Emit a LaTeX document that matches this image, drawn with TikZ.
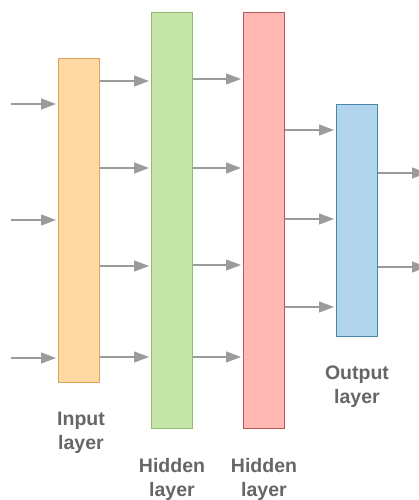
\documentclass[tikz,border=0pt]{standalone}
\usepackage{fontspec}
\setmainfont{Liberation Sans}
\usetikzlibrary{arrows.meta}

\definecolor{inputfill}{HTML}{FFD8A4}
\definecolor{inputline}{HTML}{D8A657}
\definecolor{hidafill}{HTML}{C5E6A8}
\definecolor{hidaline}{HTML}{8FBA72}
\definecolor{hidbfill}{HTML}{FFB8B4}
\definecolor{hidbline}{HTML}{B25A57}
\definecolor{outfill}{HTML}{B2D5EE}
\definecolor{outline}{HTML}{4A88AA}
\definecolor{conngray}{HTML}{9B9B9B}
\definecolor{textgray}{HTML}{666666}

\tikzset{
  layer/.style={draw, line width=1.1pt, minimum width=41pt, inner sep=0pt, anchor=north west},
  conn/.style={draw=conngray, line width=1.3pt, shorten >=2pt,
    -{Triangle[length=15pt,width=11pt]}},
  caption/.style={font=\bfseries\fontsize{19.5}{24}\selectfont, text=textgray,
    align=center, anchor=north, inner sep=0pt}
}

\begin{document}
\begin{tikzpicture}[x=1pt,y=-1pt]
  \useasboundingbox (0,0) rectangle (418,500);

  % layers
  \node[layer, fill=inputfill, draw=inputline, minimum height=324pt] (I) at (58,58) {};
  \node[layer, fill=hidafill, draw=hidaline, minimum height=416pt] (H1) at (151,12) {};
  \node[layer, fill=hidbfill, draw=hidbline, minimum height=416pt] (H2) at (243,12) {};
  \node[layer, fill=outfill, draw=outline, minimum height=232pt] (O) at (336,104) {};

  % inputs and outputs
  \foreach \y in {104,220,358} {
    \coordinate (x\y) at (11,\y);
    \draw[conn] (x\y) -- (I.west |- 0,\y);
  }
  \foreach \y in {173,267} {
    \coordinate (y\y) at (427,\y);
    \draw[conn, shorten >=0pt] (O.east |- 0,\y) -- (y\y);
  }

  % between layers
  \foreach \y in {81,168,266,357}
    \draw[conn] (I.east |- 0,\y) -- (H1.west |- 0,\y);
  \foreach \y in {79,168,265,357}
    \draw[conn] (H1.east |- 0,\y) -- (H2.west |- 0,\y);
  \foreach \y in {130,219,307}
    \draw[conn] (H2.east |- 0,\y) -- (O.west |- 0,\y);

  % captions
  \node[caption] (Ilab) at (81,412) {Input\\layer};
  \node[caption] (H1lab) at (172,458) {Hidden\\layer};
  \node[caption] (H2lab) at (264,458) {Hidden\\layer};
  \node[caption] (Olab) at (357,366) {Output\\layer};
\end{tikzpicture}
\end{document}
